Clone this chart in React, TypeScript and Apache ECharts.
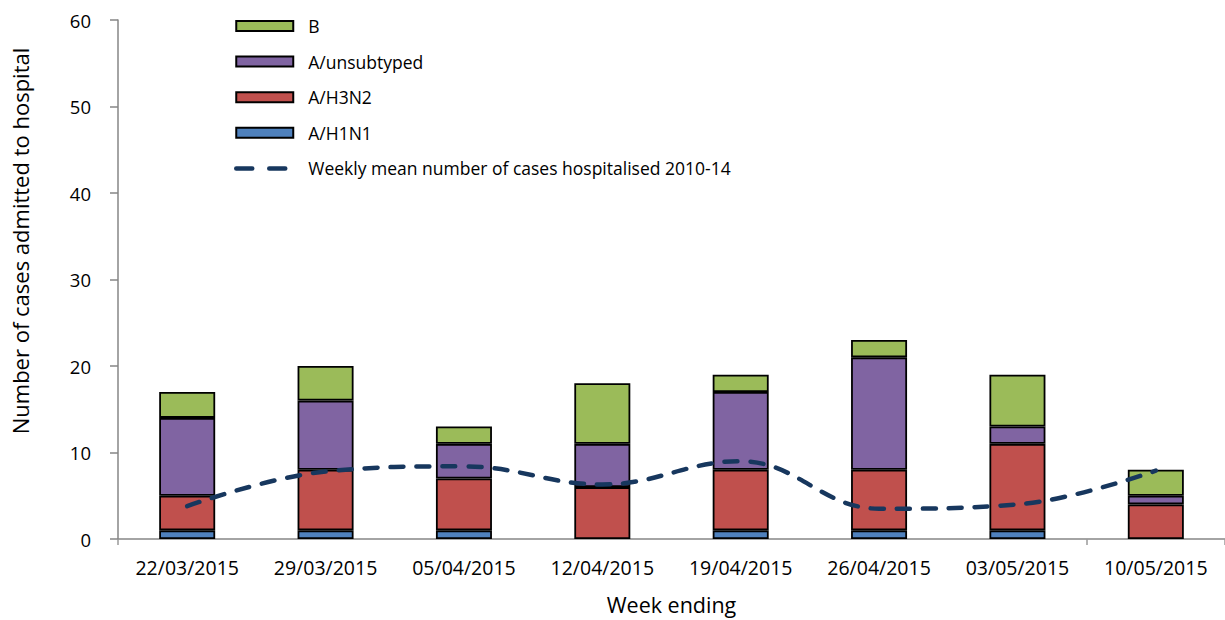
import React, { useEffect, useRef } from "react";
import * as echarts from "echarts";

const categories = ["22/03/2015", "29/03/2015", "05/04/2015", "12/04/2015", "19/04/2015", "26/04/2015", "03/05/2015", "10/05/2015"];
const h1n1 = [1, 1, 1, 0, 1, 1, 1, 0];
const h3n2 = [4, 7, 6, 6, 7, 7, 10, 4];
const unsubtyped = [9, 8, 4, 5, 9, 13, 2, 1];
const fluB = [3, 4, 2, 7, 2, 2, 6, 3];
const weeklyMean = [3.8, 7.8, 8.4, 6.3, 9.0, 3.5, 4.0, 7.9];
const yTicks = [0, 10, 20, 30, 40, 50, 60];

const FONT = "'Open Sans', 'Noto Sans', sans-serif";
const LINE_NAME = "Weekly mean number of cases hospitalised 2010-14";

export default function App() {
  const ref = useRef<HTMLDivElement>(null);
  useEffect(() => {
    if (!ref.current) return;
    const chart = echarts.init(ref.current, null, { renderer: "svg" });
    const nz = (arr: number[]) => arr.map((v) => (v === 0 ? null : v));
    const barBase = {
      type: "bar",
      stack: "cases",
      barWidth: 56,
      itemStyle: { borderColor: "#000", borderWidth: 1.8 },
    };
    chart.setOption({
      animation: false,
      textStyle: { fontFamily: FONT },
      grid: { left: 118, top: 20, right: -6, bottom: 78, containLabel: false },
      legend: {
        show: true,
        orient: "vertical",
        left: 229,
        top: 12,
        itemWidth: 57,
        itemHeight: 10,
        itemGap: 17.6,
        textStyle: { fontFamily: FONT, fontSize: 17.5, color: "#000", padding: [0, 0, 0, 10] },
        data: [
          { name: "B", icon: "rect" },
          { name: "A/unsubtyped", icon: "rect" },
          { name: "A/H3N2", icon: "rect" },
          { name: "A/H1N1", icon: "rect" },
          { name: LINE_NAME, itemStyle: { opacity: 0 }, lineStyle: { type: [16, 17], width: 4.5, cap: "round" } },
        ],
      },
      xAxis: {
        type: "category",
        data: categories,
        boundaryGap: true,
        name: "Week ending",
        nameLocation: "middle",
        nameGap: 54,
        nameTextStyle: { fontFamily: FONT, fontSize: 21.5, color: "#000" },
        axisLine: { lineStyle: { color: "#868686", width: 1.5 } },
        axisTick: { show: true, length: 6, interval: (i: number) => i === 0 || i === 7, lineStyle: { color: "#9a9a9a", width: 1.5 } },
        axisLabel: { fontFamily: FONT, fontSize: 19.5, color: "#000", margin: 18, interval: 0 },
      },
      yAxis: {
        type: "value",
        min: yTicks[0],
        max: yTicks[yTicks.length - 1],
        interval: 10,
        splitLine: { show: false },
        axisLine: { show: true, lineStyle: { color: "#868686", width: 1.5 } },
        axisTick: { show: true, length: 8, lineStyle: { color: "#868686", width: 1.5 } },
        axisLabel: { fontFamily: FONT, fontSize: 18.5, color: "#000", margin: 27 },
      },
      graphic: [
        {
          type: "text",
          x: 20,
          y: 241,
          rotation: Math.PI / 2,
          style: {
            text: "Number of cases admitted to hospital",
            fontFamily: FONT,
            fontSize: 22,
            fill: "#000",
            align: "center",
            verticalAlign: "middle",
          },
        },
      ],
      series: [
        { ...barBase, name: "A/H1N1", data: nz(h1n1), itemStyle: { ...barBase.itemStyle, color: "#4F81BD" } },
        { ...barBase, name: "A/H3N2", data: nz(h3n2), itemStyle: { ...barBase.itemStyle, color: "#C0504D" } },
        { ...barBase, name: "A/unsubtyped", data: nz(unsubtyped), itemStyle: { ...barBase.itemStyle, color: "#8064A2" } },
        { ...barBase, name: "B", data: nz(fluB), itemStyle: { ...barBase.itemStyle, color: "#9BBB59" } },
        {
          type: "line",
          name: LINE_NAME,
          data: weeklyMean,
          smooth: 0.4,
          symbol: "none",
          z: 10,
          itemStyle: { color: "#17375E" },
          lineStyle: { color: "#17375E", width: 4.5, type: [13, 13], cap: "round" },
        },
      ],
    });
    return () => chart.dispose();
  }, []);
  return <div ref={ref} style={{ position: "absolute", left: 0, top: 0, width: 1225, height: 620 }} />;
}
